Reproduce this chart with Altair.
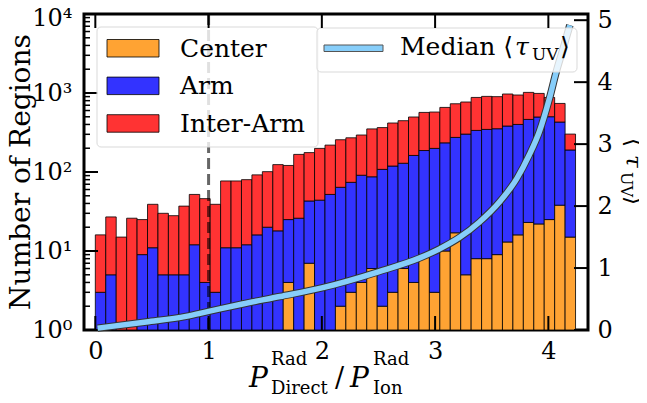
import altair as alt
import pandas as pd
import numpy as np

# ---------------- data ----------------
categories = ["Center", "Arm", "Inter-Arm"]
colors = ["#FFA333", "#3333FF", "#FF3333"]

n_bins = 46
bin_start = 0.0
bin_stop = 4.24

center = [0, 0, 0, 0, 0, 0, 0, 0, 0, 0,
          0, 0, 0, 0, 0, 0, 0, 0, 4, 0,
          7, 0, 0, 2, 3, 4, 6, 2, 3, 6,
          4, 9, 3, 10, 17, 5, 8, 8, 9, 13,
          16, 23, 22, 25, 38, 15]
arm = [3, 5, 0, 0, 9, 11, 5, 5, 5, 12,
       4, 3, 11, 11, 12, 16, 20, 18, 21, 26,
       36, 44, 52, 62, 71, 87, 81, 106, 116, 123,
       158, 178, 196, 224, 257, 297, 328, 338, 344, 369,
       384, 440, 475, 476, 391, 175]
inter = [13, 22, 15, 26, 16, 28, 25, 23, 32, 40,
         42, 36, 66, 66, 68, 76, 81, 106, 96, 141,
         133, 155, 167, 192, 197, 203, 264, 257, 298, 317,
         335, 381, 375, 423, 457, 467, 543, 560, 546, 589,
         543, 555, 491, 378, 309, 112]

tau_x = [0.02, 0.45, 0.8, 1.0, 1.3, 1.63, 2.0, 2.5, 2.86, 3.04, 3.22, 3.39,
         3.57, 3.72, 3.83, 3.92, 4.01, 4.07, 4.13, 4.19]
tau_y = [0.03, 0.13, 0.22, 0.30, 0.42, 0.54, 0.68, 0.94, 1.16, 1.31, 1.50, 1.74,
         2.07, 2.44, 2.82, 3.20, 3.74, 4.17, 4.54, 4.92]

x_ticks = [0, 1, 2, 3, 4]
y_ticks = [1, 10, 100, 1000, 10000]
y_minor = [m * 10 ** d for d in range(4) for m in range(2, 10)]
tau_ticks = [0, 1, 2, 3, 4, 5]
threshold = [1.0]

# ---------------- tables ----------------
edges = np.linspace(bin_start, bin_stop, n_bins + 1)
rows = []
for i in range(n_bins):
    base = 0
    for cat, counts in zip(categories, [center, arm, inter]):
        c = counts[i]
        if c > 0:
            rows.append({"x": edges[i], "x2": edges[i + 1],
                         "top": base + c, "bottom": max(base, 1), "cat": cat})
        base += c
bars_df = pd.DataFrame(rows)
tau_df = pd.DataFrame({"x": tau_x, "tau": tau_y})

W, H = 504, 316
FONT = "DejaVu Serif"
FS = 24
LFS = 25

xscale = alt.Scale(domain=[-0.1, 4.35], nice=False, zero=False)
xaxis = alt.Axis(values=x_ticks, format="d", labelFont=FONT, labelFontSize=FS,
                 labelColor="black", tickSize=0, domain=False, grid=False,
                 labelPadding=9, title=None)

sup = {1: "10⁰", 10: "10¹", 100: "10²", 1000: "10³", 10000: "10⁴"}
label_expr = " : ".join([f"datum.value == {k} ? '{v}'" for k, v in sup.items()]) + " : ''"

yaxis = alt.Axis(values=y_ticks, labelExpr=label_expr, labelFont=FONT,
                 labelFontSize=FS, labelColor="black", tickSize=0, domain=False,
                 grid=False, labelPadding=12, title=None,
                 labelOffset={"condition": {"test": "datum.value == 10000", "value": 4},
                              "value": 0})

bars = alt.Chart(bars_df).mark_rect(stroke="black", strokeWidth=1, strokeOpacity=0.8).encode(
    x=alt.X("x:Q", scale=xscale, axis=xaxis),
    x2="x2:Q",
    y=alt.Y("top:Q", scale=alt.Scale(type="log", domain=[1, 10000], nice=False), axis=yaxis),
    y2="bottom:Q",
    fill=alt.Fill("cat:N", scale=alt.Scale(domain=categories, range=colors), legend=None),
)

dashed = alt.Chart(pd.DataFrame({"x": threshold})).mark_rule(
    color="black", opacity=0.6, strokeWidth=3, strokeDash=[11, 5]).encode(x="x:Q")

xt_df = pd.DataFrame({"v": x_ticks})
xt_bottom = alt.Chart(xt_df).mark_rule(color="black", strokeWidth=2).encode(
    x="v:Q", y=alt.value(H), y2=alt.value(H - 14))
xt_top = alt.Chart(xt_df).mark_rule(color="black", strokeWidth=2).encode(
    x="v:Q", y=alt.value(0), y2=alt.value(14))
yt_major = alt.Chart(pd.DataFrame({"v": y_ticks})).mark_rule(color="black", strokeWidth=2).encode(
    y="v:Q", x=alt.value(0), x2=alt.value(14))
yt_minor = alt.Chart(pd.DataFrame({"v": y_minor})).mark_rule(color="black", strokeWidth=1.5).encode(
    y="v:Q", x=alt.value(0), x2=alt.value(6))

left = alt.layer(bars, dashed, xt_bottom, yt_major, yt_minor)

# ---------------- right axis group ----------------
tscale = alt.Scale(domain=[0, 5.1], nice=False, zero=False)
taxis = alt.Axis(orient="right", values=tau_ticks, format="d", labelFont=FONT,
                 labelFontSize=FS, labelColor="black", tickSize=0, domain=False,
                 grid=False, labelPadding=9, title=None)

line_out = alt.Chart(tau_df).mark_line(color="#333333", strokeWidth=7.5, interpolate="monotone").encode(
    x=alt.X("x:Q", scale=xscale, axis=xaxis),
    y=alt.Y("tau:Q", scale=tscale, axis=taxis))
line_in = alt.Chart(tau_df).mark_line(color="#87CEFA", strokeWidth=5.5, interpolate="monotone").encode(
    x="x:Q", y="tau:Q")
rt = alt.Chart(pd.DataFrame({"v": tau_ticks})).mark_rule(color="black", strokeWidth=2).encode(
    y="v:Q", x=alt.value(W - 14), x2=alt.value(W))

one = pd.DataFrame({"d": [0]})

# legend 1 (histogram categories)
box1 = alt.Chart(one).mark_rect(fill="white", fillOpacity=0.8, stroke="#d9d9d9",
                                strokeWidth=1, cornerRadius=4).encode(
    x=alt.value(13), x2=alt.value(234), y=alt.value(13), y2=alt.value(133))
leg_df = pd.DataFrame({"label": categories, "color": colors, "row": [0, 1, 2]})
leg_df["ptop"] = 25.5 + leg_df["row"] * 37.6
leg_df["pbot"] = leg_df["ptop"] + 17.5
leg_df["ty"] = 42.5 + leg_df["row"] * 37.6
patches = alt.Chart(leg_df).mark_rect(stroke="black", strokeWidth=1, strokeOpacity=0.8).encode(
    x=alt.value(23), x2=alt.value(75),
    y=alt.Y("ptop:Q", scale=None), y2="pbot:Q",
    fill=alt.Fill("color:N", scale=None))
leg_text = alt.Chart(leg_df).mark_text(font=FONT, fontSize=LFS, align="left",
                                       baseline="alphabetic", color="black").encode(
    x=alt.value(96), y=alt.Y("ty:Q", scale=None), text="label:N")

# legend 2 (median line)
box2 = alt.Chart(one).mark_rect(fill="white", fillOpacity=0.8, stroke="#d9d9d9",
                                strokeWidth=1, cornerRadius=4).encode(
    x=alt.value(233), x2=alt.value(493), y=alt.value(14), y2=alt.value(58))
handle = alt.Chart(one).mark_rect(fill="#87CEFA", stroke="#555555", strokeWidth=1).encode(
    x=alt.value(240), x2=alt.value(299), y=alt.value(31), y2=alt.value(37.5))


def txt(s, x, y, size=FS, style="normal", angle=0, align="left"):
    return alt.Chart(pd.DataFrame({"s": [s]})).mark_text(
        font=FONT, fontSize=size, fontStyle=style, align=align,
        baseline="alphabetic", color="black", angle=angle).encode(
        x=alt.value(x), y=alt.value(y), text="s:N")


leg2 = [txt("Median ⟨", 316, 41, LFS), txt("τ", 431, 41, LFS, "italic"),
        txt("UV", 448, 46, 17), txt("⟩", 476, 41, LFS)]

# left axis title
ltitle = [txt("Number of Regions", -54, H / 2, 28, angle=270, align="center")]

# x-axis title  P^Rad_Direct / P^Rad_Ion
xtitle = [txt("P", 165, 373, 28, "italic"), txt("Rad", 187, 351, 18),
          txt("Direct", 187, 380, 18), txt("/", 251, 373, 27),
          txt("P", 266, 373, 28, "italic"), txt("Rad", 289, 351, 18),
          txt("Ion", 289, 380, 18)]

# right axis title <tau_UV>
rtitle = [txt("⟨", 542, 124, 23, angle=90), txt("τ", 542, 141, 23, "italic", angle=90),
          txt("UV", 537, 158, 16, angle=90), txt("⟩", 542, 182, 23, angle=90)]

right = alt.layer(line_out, line_in, rt, box1, patches, leg_text, box2, handle,
                  xt_top, *leg2, *ltitle, *xtitle, *rtitle)

chart = alt.layer(left, right).resolve_scale(y="independent").properties(
    width=W, height=H,
    padding={"left": 76, "top": 6, "right": 51, "bottom": 65},
    autosize=alt.AutoSizeParams(type="none"),
).configure_view(stroke="black", strokeWidth=3)

chart.save("out.html", embed_options={"renderer": "svg", "actions": False})
